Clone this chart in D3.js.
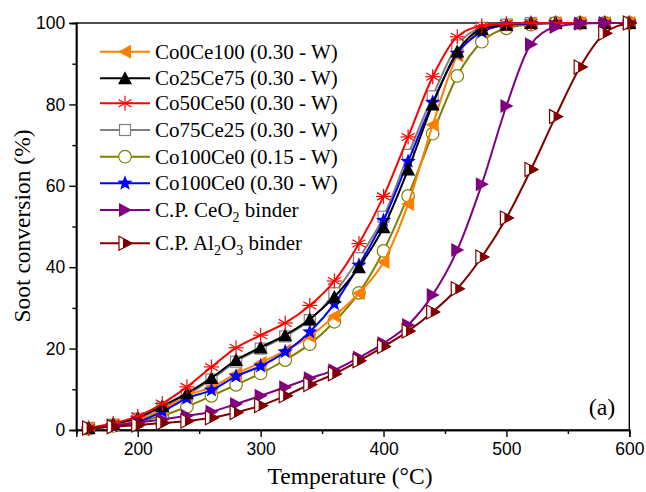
<!DOCTYPE html>
<html>
<head>
<meta charset="utf-8">
<script src="https://cdn.jsdelivr.net/npm/d3@7/dist/d3.min.js"></script>
<style>
  html, body { margin: 0; padding: 0; background: #fff; }
  svg { display: block; }
</style>
</head>
<body>
<svg id="chart" width="646" height="492"></svg>
<script>
// Temperature grid (°C) shared by every series
const temperature = [160,180,200,220,240,260,280,300,320,340,360,380,400,420,440,460,480,500,520,540,560,580,600];

// Soot conversion (%) for each sample
const co0ce100   = [0.5,1.2,2.3,5.0,8.5,10.5,13.8,16.5,19.5,23.0,28.0,33.6,41.3,55.5,75.0,92.0,98.0,99.5,99.8,100,100,100,100];
const co25ce75   = [0.5,1.5,3.0,5.9,9.0,12.8,17.2,20.3,23.3,27.2,32.7,40.0,49.8,64.0,80.0,93.0,98.5,99.6,100,100,100,100,100];
const co50ce50   = [0.5,1.6,3.4,6.5,10.6,15.5,20.2,23.3,26.3,30.6,36.6,45.8,57.4,72.0,86.8,96.6,99.3,99.8,100,100,100,100,100];
const co75ce25   = [0.5,1.3,2.8,5.5,8.6,12.4,16.8,20.0,23.0,27.0,33.6,42.2,52.4,67.6,82.0,94.5,98.8,99.6,100,100,100,100,100];
const co100ce0_015 = [0.3,1.0,2.0,3.5,5.7,8.4,11.1,13.9,17.2,21.1,26.6,33.7,44.0,57.5,72.8,87.0,95.4,98.7,99.6,100,100,100,100];
const co100ce0_030 = [0.4,1.0,2.0,4.5,7.8,9.8,13.2,15.7,19.2,24.1,31.0,40.5,51.5,66.0,80.5,92.5,97.8,99.5,99.8,100,100,100,100];
const cpCeO2     = [0.3,1.0,1.8,2.6,3.5,4.5,6.4,8.4,10.5,12.7,14.7,17.8,21.3,25.8,33.2,44.2,60.4,79.6,94.8,99.0,99.8,100,100];
const cpAl2O3    = [0.5,0.8,1.2,1.7,2.2,3.0,4.3,6.0,8.4,11.2,13.8,17.0,20.5,24.3,29.0,34.7,42.5,52.1,64.0,77.0,89.2,97.5,100];

// Tick values
const xTicks = [200,300,400,500,600];
const xMinor = [150,250,350,450,550];
const yTicks = [0,20,40,60,80,100];
const yMinor = [10,30,50,70,90];

const seriesList = [
  { name: "Co0Ce100 (0.30 - W)", values: co0ce100, color: "#FF8000", symbol: "ltri" },
  { name: "Co25Ce75 (0.30 - W)", values: co25ce75, color: "#000000", symbol: "utri" },
  { name: "Co50Ce50 (0.30 - W)", values: co50ce50, color: "#FF0000", symbol: "aster" },
  { name: "Co75Ce25 (0.30 - W)", values: co75ce25, color: "#808080", symbol: "square" },
  { name: "Co100Ce0 (0.15 - W)", values: co100ce0_015, color: "#808000", symbol: "circle" },
  { name: "Co100Ce0 (0.30 - W)", values: co100ce0_030, color: "#0000FF", symbol: "star" },
  { name: "C.P. CeO|2| binder", values: cpCeO2, color: "#800080", symbol: "rtri" },
  { name: "C.P. Al|2|O|3| binder", values: cpAl2O3, color: "#800000", symbol: "halfrtri" }
];
// drawing order (bottom to top)
const drawOrder = [3, 4, 0, 5, 1, 2, 6, 7];

const svg = d3.select("#chart");
const x = d3.scaleLinear().domain([150, 600]).range([76.3, 629.3]);
const y = d3.scaleLinear().domain([0, 100]).range([430, 23]);

// frame
svg.append("rect")
  .attr("x", x(150)).attr("y", y(100))
  .attr("width", x(600) - x(150)).attr("height", y(0) - y(100))
  .attr("fill", "none").attr("stroke", "#000").attr("stroke-width", 1.4);

// axes
const tickFont = "'Liberation Sans', Arial, sans-serif";
const xAxis = svg.append("g").attr("transform", `translate(0,${y(0)})`)
  .call(d3.axisBottom(x).tickValues(xTicks).tickSize(7).tickPadding(6).tickFormat(d3.format("d")));
const xAxisMinor = svg.append("g").attr("transform", `translate(0,${y(0)})`)
  .call(d3.axisBottom(x).tickValues(xMinor).tickSize(4).tickFormat(""));
const yAxis = svg.append("g").attr("transform", `translate(${x(150)},0)`)
  .call(d3.axisLeft(y).tickValues(yTicks).tickSize(7).tickPadding(4).tickFormat(d3.format("d")));
const yAxisMinor = svg.append("g").attr("transform", `translate(${x(150)},0)`)
  .call(d3.axisLeft(y).tickValues(yMinor).tickSize(4).tickFormat(""));
[xAxis, xAxisMinor, yAxis, yAxisMinor].forEach(g => {
  g.select(".domain").attr("stroke-width", 1.4);
  g.selectAll(".tick line").attr("stroke-width", 1.4);
  g.selectAll("text").attr("font-family", tickFont).attr("font-size", 17.5).attr("fill", "#000");
});

// axis titles
const serif = "'Liberation Serif', 'Times New Roman', serif";
svg.append("text").attr("x", 350).attr("y", 484).attr("text-anchor", "middle")
  .attr("font-family", serif).attr("font-size", 23.5).text("Temperature (°C)");
svg.append("text").attr("transform", `translate(30,226) rotate(-90)`).attr("text-anchor", "middle")
  .attr("font-family", serif).attr("font-size", 23.5).text("Soot conversion (%)");
svg.append("text").attr("x", 602).attr("y", 415).attr("text-anchor", "middle")
  .attr("font-family", serif).attr("font-size", 24).text("(a)");

// markers
function drawSymbol(g, type, color, cx, cy) {
  const m = g.append("g").attr("transform", `translate(${cx},${cy})`);
  if (type === "ltri") {
    m.append("path").attr("d", "M-7,0 L6,-7 L6,7 Z").attr("fill", color);
  } else if (type === "rtri") {
    m.append("path").attr("d", "M7,0 L-6,-7 L-6,7 Z").attr("fill", color);
  } else if (type === "utri") {
    m.append("path").attr("d", "M0,-7 L7,6 L-7,6 Z").attr("fill", color);
  } else if (type === "halfrtri") {
    m.append("path").attr("d", "M7,0 L-6,-7 L-6,7 Z").attr("fill", "#fff").attr("stroke", color).attr("stroke-width", 1.2);
    m.append("path").attr("d", "M7,0 L-1.5,-4.6 L-1.5,4.6 Z").attr("fill", color).attr("stroke", color).attr("stroke-width", 1);
  } else if (type === "square") {
    m.append("rect").attr("x", -5.5).attr("y", -5.5).attr("width", 11).attr("height", 11)
      .attr("fill", "#fff").attr("stroke", color).attr("stroke-width", 1.2);
  } else if (type === "circle") {
    m.append("circle").attr("r", 6.3).attr("fill", "#fff").attr("stroke", color).attr("stroke-width", 1.2);
  } else if (type === "star") {
    const pts = [];
    for (let i = 0; i < 10; i++) {
      const r = i % 2 === 0 ? 8 : 3.4;
      const a = -Math.PI / 2 + i * Math.PI / 5;
      pts.push([r * Math.cos(a), r * Math.sin(a)]);
    }
    m.append("path").attr("d", "M" + pts.map(p => p.join(",")).join("L") + "Z").attr("fill", color);
  } else if (type === "aster") {
    const r = 7.5;
    [90, 30, 150, 0].forEach(deg => {
      const a = deg * Math.PI / 180;
      m.append("line")
        .attr("x1", -r * Math.cos(a)).attr("y1", -r * Math.sin(a))
        .attr("x2", r * Math.cos(a)).attr("y2", r * Math.sin(a))
        .attr("stroke", color).attr("stroke-width", 1.2);
    });
  }
}

const line = d3.line().x(d => x(d[0])).y(d => y(d[1])).curve(d3.curveMonotoneX);

const plot = svg.append("g");
drawOrder.forEach(idx => {
  const s = seriesList[idx];
  const pts = temperature.map((t, i) => [t, s.values[i]]);
  const g = plot.append("g");
  g.append("path").attr("d", line(pts)).attr("fill", "none")
    .attr("stroke", s.color).attr("stroke-width", 2);
  pts.forEach(p => drawSymbol(g, s.symbol, s.color, x(p[0]), y(p[1])));
});

// legend
const legendRows = [51.7, 78.3, 103.3, 130, 156.7, 183.3, 210, 243.3];
const legend = svg.append("g");
seriesList.forEach((s, i) => {
  const ly = legendRows[i];
  const g = legend.append("g");
  g.append("line").attr("x1", 100).attr("x2", 150).attr("y1", ly).attr("y2", ly)
    .attr("stroke", s.color).attr("stroke-width", 2);
  drawSymbol(g, s.symbol, s.color, 125, ly);
  const t = g.append("text").attr("x", 155).attr("y", ly + 7)
    .attr("font-family", serif).attr("font-size", 21);
  s.name.split("|").forEach((part, k) => {
    if (k % 2 === 1) {
      t.append("tspan").attr("font-size", 14).attr("dy", 5).text(part);
    } else {
      const ts = t.append("tspan").text(part);
      if (k > 0) ts.attr("dy", -5);
    }
  });
});
</script>
</body>
</html>
